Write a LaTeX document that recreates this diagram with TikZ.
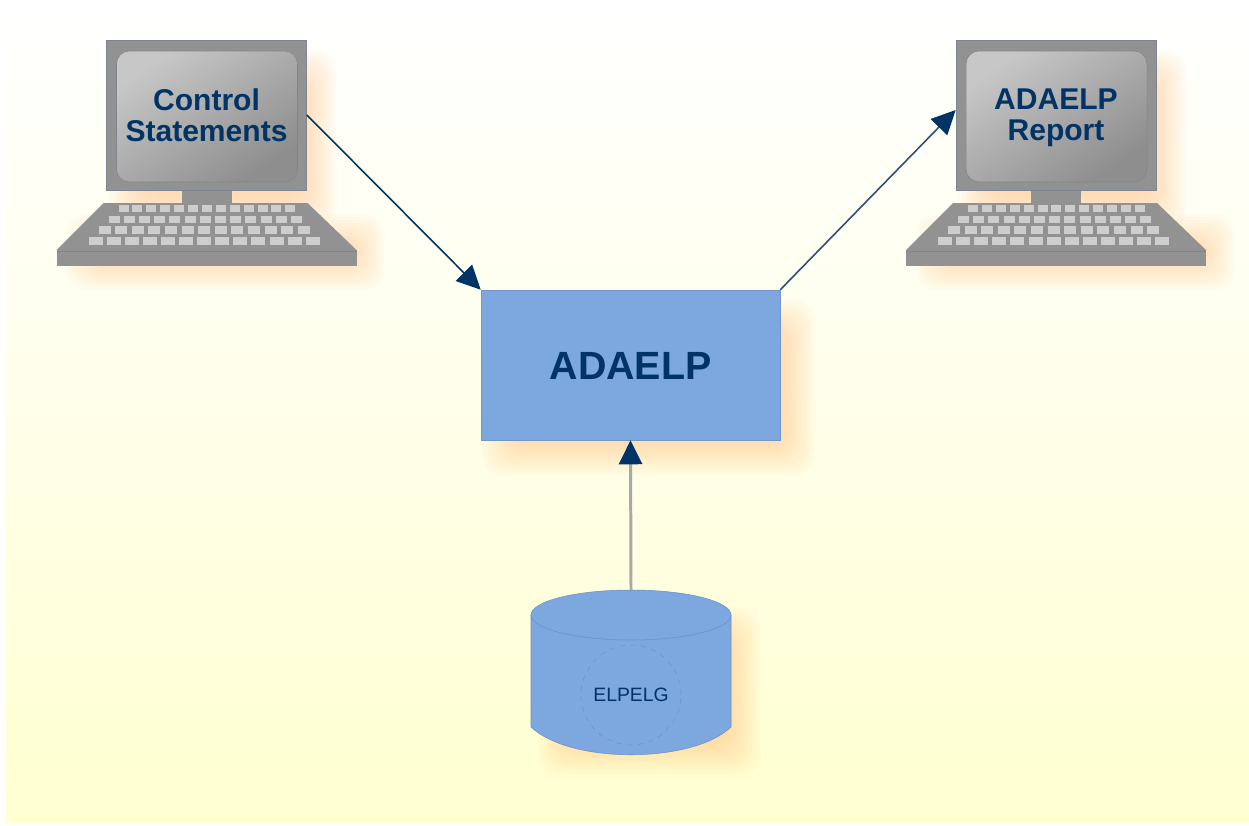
\documentclass[tikz,border=0pt]{standalone}
\usepackage{fontspec}
\setmainfont{Liberation Sans}
\usepackage{tikz}
\usetikzlibrary{arrows.meta}
\definecolor{navytext}{HTML}{003366}
\definecolor{boxblue}{HTML}{7DA7DF}
\definecolor{edgeblue}{HTML}{6F8FC0}
\definecolor{caseg}{HTML}{929292}
\definecolor{caseedge}{HTML}{7F8590}
\definecolor{keyg}{HTML}{CDCDCD}
\definecolor{paleyellow}{HTML}{FFFFD0}
\definecolor{shadowtint}{HTML}{FFB060}
\tikzset{
  titletext/.style={font=\bfseries\fontsize{17.1}{17.4}\selectfont, text=navytext, align=center},
  casebox/.style={fill=caseg, draw=caseedge, line width=0.4pt, minimum width=40mm, minimum height=30mm, inner sep=0pt},
  program/.style={fill=boxblue, draw=boxblue!90!black, line width=0.3pt, minimum width=59.8mm, minimum height=30mm, inner sep=0pt},
  navytip/.style={-{Triangle[length=4.8mm,width=4.6mm,color=navytext,fill=navytext]}},
  flowline/.style={navytext, line width=0.9pt, navytip},
}
% soft orange shadow, stacked outlines
\newcommand{\softshadow}[4]{
  \foreach \e in {18,15,...,-18}
    \fill [shadowtint, opacity=0.04, rounded corners=4mm] (#1-\e,-#2+\e) rectangle (#3+\e,-#4-\e);
}
% #1 name, #2 centre x of the screen, #3 text
\newcommand{\terminal}[3]{
  \softshadow{#2-80}{68}{#2+112}{212}
  \softshadow{#2-122}{232}{#2+160}{272}
  \fill [caseg] (#2-25,-188) rectangle (#2+25,-205);
  \node [casebox] (#1) at (#2,-115) {};
  \shade [top color=keyg!90!caseg, bottom color=caseg!97!black, shading angle=35, draw=caseedge, line width=0.3pt, rounded corners=2.6mm]
    (#2-90,-51) rectangle (#2+91,-182);
  \node [titletext] (#1text) at (#2,-118) {#3};
  \fill [caseg] (#2-103,-203) -- (#2+101,-203) -- (#2+150,-250) -- (#2-150,-250) -- cycle;
  \fill [caseg] (#2-150,-250) rectangle (#2+150,-266);
  \draw [caseedge, line width=0.4pt] (#2-150,-251) -- (#2+150,-251);
  \foreach \k in {0,...,12} {
    \fill [keyg] ({#2-88+13.9*\k},-205) rectangle ++(10,-7);
    \fill [keyg] ({#2-98+15.2*\k},-216) rectangle ++(11,-7);
    \fill [keyg] ({#2-108+16.6*\k},-226) rectangle ++(12,-8);
    \fill [keyg] ({#2-118+18.1*\k},-237) rectangle ++(14,-8);
  }
}
\begin{document}
\begin{tikzpicture}[x=0.2mm,y=0.2mm]
  \useasboundingbox (0,0) rectangle (1249,-825);
  \shade [top color=white, bottom color=paleyellow, middle color=paleyellow!45!white] (6,0) rectangle (1249,-822);

  \terminal{control}{206.5}{Control\\Statements\vphantom{p}}
  \terminal{report}{1056}{ADAELP\\Report}

  \softshadow{500}{318}{797}{457}
  \node [program] (adaelp) at (630.5,-365) {};
  \node [font=\bfseries\fontsize{22.4}{24}\selectfont, text=navytext] (adaelptext) at (630.5,-366) {ADAELP};

  % database
  \softshadow{556}{625}{742}{757}
  \filldraw [fill=boxblue, draw=edgeblue, line width=0.3pt] (531,-615) -- (531,-727) .. controls (570,-764) and (692,-764) .. (731,-727) -- (731,-615) -- cycle;
  \filldraw [fill=boxblue, draw=edgeblue, line width=0.3pt] (631,-615) ellipse [x radius=100, y radius=25];
  \coordinate (dbtop) at (631,-590);
  \node [circle, draw=edgeblue, dashed, line width=0.3pt, minimum size=20mm, inner sep=0pt,
    font=\fontsize{11}{12}\selectfont, text=navytext] (elpelg) at (631,-695) {ELPELG};

  \draw [flowline] (control.east) -- (adaelp.north west);
  \draw [flowline, navytext!70!caseg] (adaelp.north east) -- ([yshift=1mm]report.west);
  \draw [line width=1.7pt, color=caseg!80!white, navytip] (dbtop) -- (adaelp.south);
\end{tikzpicture}
\end{document}
